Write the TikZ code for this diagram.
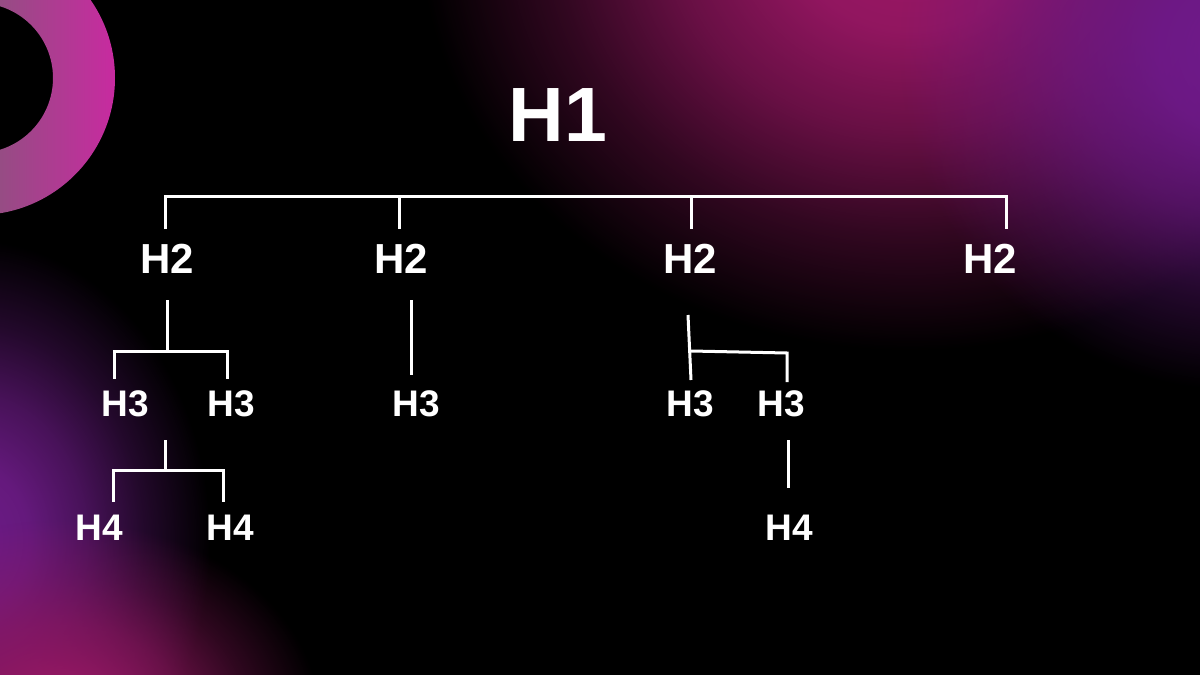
\documentclass[tikz,border=0pt]{standalone}
\usepackage{fontspec}
\setmainfont{Liberation Sans}
\usetikzlibrary{fadings}
\definecolor{glowmag}{RGB}{158,24,104}
\definecolor{glowpur}{RGB}{112,26,140}
\definecolor{glowmagB}{RGB}{150,24,100}
\definecolor{glowpurB}{RGB}{110,28,136}
\definecolor{ringL}{RGB}{150,76,132}
\definecolor{ringR}{RGB}{200,42,160}
\pgfdeclareradialshading{glowshade}{\pgfpointorigin}{color(0bp)=(white); color(6bp)=(white!92!black); color(12bp)=(white!66!black); color(18bp)=(white!32!black); color(25bp)=(black); color(50bp)=(black)}
\pgfdeclarefading{glow}{\pgfuseshading{glowshade}}
\begin{document}
\begin{tikzpicture}[x=1pt,y=-1pt,
  lbl/.style={text=white,inner sep=0pt},
  hone/.style={lbl,font=\fontsize{77}{77}\selectfont\bfseries},
  htwo/.style={lbl,font=\fontsize{42}{42}\selectfont\bfseries},
  hthree/.style={lbl,font=\fontsize{37}{37}\selectfont\bfseries},
  conn/.style={draw=white,line width=3pt}]
\useasboundingbox (0,0) rectangle (1200,675);
\fill[black] (0,0) rectangle (1200,675);
\begin{scope}
\clip (0,0) rectangle (1200,675);
% glows
\fill[glowmag, path fading=glow] (910,-70) ellipse (490 and 420);
\fill[glowpur, path fading=glow] (1240,50) ellipse (340 and 340);
\fill[glowpurB, path fading=glow] (-30,540) ellipse (240 and 300);
\fill[glowmagB, path fading=glow] (60,720) ellipse (260 and 200);
% ring
\begin{scope}[even odd rule]
\clip (-22,78) circle (137) (-22,78) circle (75);
\shade[left color=ringL, right color=ringR] (0,-70) rectangle (116,220);
\end{scope}
\end{scope}
% nodes
\node[hone] (h1) at (558,115) {H1};
\node[htwo] (h2a) at (167,259) {H2};
\node[htwo] (h2b) at (401,259) {H2};
\node[htwo] (h2c) at (690,259) {H2};
\node[htwo] (h2d) at (990,259) {H2};
\node[hthree] (h3a) at (125,404) {H3};
\node[hthree] (h3b) at (231,404) {H3};
\node[hthree] (h3c) at (416,404) {H3};
\node[hthree] (h3d) at (690,404) {H3};
\node[hthree] (h3e) at (781,404) {H3};
\node[hthree] (h4a) at (99,528) {H4};
\node[hthree] (h4b) at (230,528) {H4};
\node[hthree] (h4c) at (789,528) {H4};
% coordinates for the bracket connectors
\coordinate (t1) at (165,229); \coordinate (b1) at (165,196);
\coordinate (b4) at (1006,196); \coordinate (t4) at (1006,229);
\coordinate (b2) at (399,196); \coordinate (t2) at (399,229);
\coordinate (b3) at (691,196); \coordinate (t3) at (691,229);
\coordinate (a0) at (167,300); \coordinate (a1) at (167,351);
\coordinate (a2) at (114,351); \coordinate (a3) at (114,379);
\coordinate (a4) at (227,351); \coordinate (a5) at (227,379);
\coordinate (c0) at (411,300); \coordinate (c1) at (411,375);
\coordinate (e0) at (688,315); \coordinate (e1) at (691,380);
\coordinate (e2) at (691,351); \coordinate (e3) at (787,353); \coordinate (e4) at (787,382);
\coordinate (f0) at (165,440); \coordinate (f1) at (165,470);
\coordinate (f2) at (113,470); \coordinate (f3) at (113,502);
\coordinate (f4) at (223,470); \coordinate (f5) at (223,502);
\coordinate (g0) at (788,440); \coordinate (g1) at (788,488);
% connectors
\draw[conn] (t1) -- (b1) -- (b4) -- (t4);
\draw[conn] (b2) -- (t2);
\draw[conn] (b3) -- (t3);
\draw[conn] (a0) -- (a1);
\draw[conn] (a3) -- (a2) -- (a4) -- (a5);
\draw[conn] (c0) -- (c1);
\draw[conn] (e0) -- (e1);
\draw[conn] (e2) -- (e3) -- (e4);
\draw[conn] (f0) -- (f1);
\draw[conn] (f3) -- (f2) -- (f4) -- (f5);
\draw[conn] (g0) -- (g1);
\end{tikzpicture}
\end{document}
